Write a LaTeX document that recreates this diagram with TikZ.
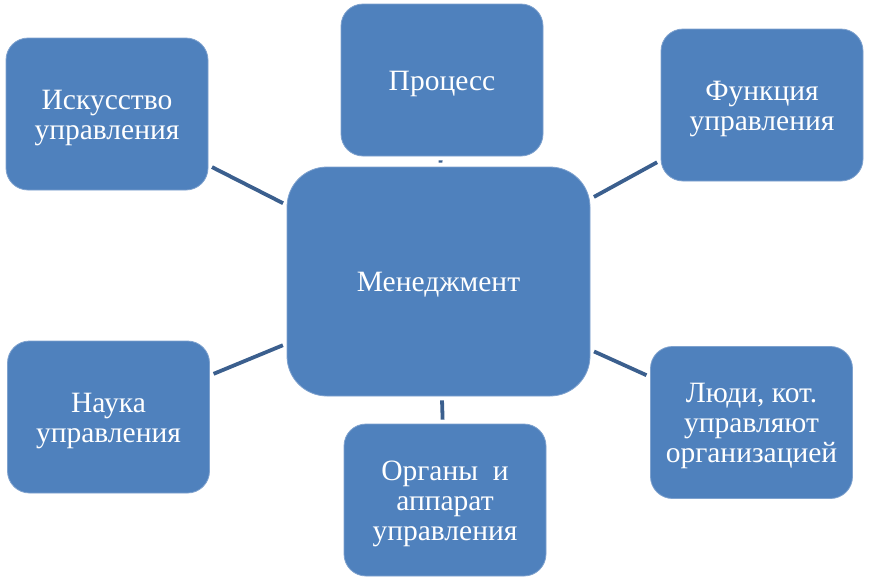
\documentclass[tikz,border=0pt]{standalone}
\usepackage{fontspec}
\setmainfont{Liberation Serif}
\definecolor{boxblue}{HTML}{4F81BD}
\definecolor{edgeblue}{HTML}{7FA2CE}
\definecolor{linkblue}{HTML}{3B5F8E}
\newcommand{\topstrut}{\rule{0pt}{26.5pt}}
\begin{document}
\begin{tikzpicture}[x=1pt,y=-1pt,
  box/.style={draw=edgeblue, line width=0.8pt, fill=boxblue, rounded corners=22pt,
    minimum width=202pt, minimum height=152pt, inner sep=0pt, align=center,
    text=white, font=\fontsize{29.5}{30}\selectfont},
  bigbox/.style={box, rounded corners=40pt, minimum width=303pt, minimum height=229pt},
  conn/.style={draw=linkblue, line width=3.8pt, shorten <=4pt, shorten >=4pt}]
\useasboundingbox (0,0) rectangle (869,579);
\node[bigbox] (main) at (438.5,281.5) {\topstrut Менеджмент};
\node[box] (art) at (107,114) {\topstrut Искусство\\управления};
\node[box] (proc) at (442,80) {\topstrut Процесс};
\node[box] (func) at (762,105) {\topstrut Функция\\управления};
\node[box] (sci) at (108.5,417) {\topstrut Наука\\управления};
\node[box] (org) at (445,500) {\topstrut Органы\ \ и\\аппарат\\управления};
\node[box] (ppl) at (751.5,422.5) {\topstrut Люди, кот.\\управляют\\организацией};
\draw[conn] (art) -- (main);
\draw[conn] (proc) -- (main);
\draw[conn] (func) -- (main);
\draw[conn] (sci) -- (main);
\draw[conn] (org) -- (main);
\draw[conn] (ppl) -- (main);
\end{tikzpicture}
\end{document}
